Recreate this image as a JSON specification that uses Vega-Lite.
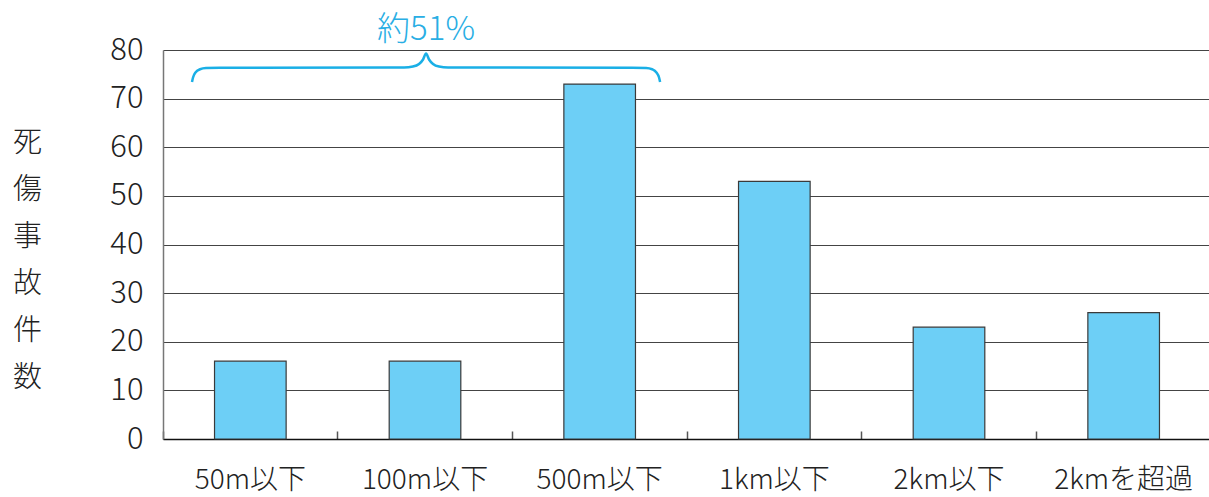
{
  "$schema": "https://vega.github.io/schema/vega-lite/v6.json",
  "width": 1048,
  "height": 389,
  "autosize": "none",
  "padding": {"left": 163, "top": 50, "right": 0, "bottom": 58},
  "background": "white",
  "config": {
    "view": {"stroke": null},
    "font": "Noto Sans CJK JP"
  },
  "datasets": {
    "accidents": [
      {"distance": "50m以下", "count": 16},
      {"distance": "100m以下", "count": 16},
      {"distance": "500m以下", "count": 73},
      {"distance": "1km以下", "count": 53},
      {"distance": "2km以下", "count": 23},
      {"distance": "2kmを超過", "count": 26}
    ],
    "brace": [
      {"pos": 0.166, "count": 73.43},
      {"pos": 0.172, "count": 74.35},
      {"pos": 0.186, "count": 75.38},
      {"pos": 0.212, "count": 76.04},
      {"pos": 0.246, "count": 76.30},
      {"pos": 0.326, "count": 76.37},
      {"pos": 1.380, "count": 76.39},
      {"pos": 1.431, "count": 76.59},
      {"pos": 1.466, "count": 77.13},
      {"pos": 1.489, "count": 78.05},
      {"pos": 1.506, "count": 79.28},
      {"pos": 1.523, "count": 78.05},
      {"pos": 1.546, "count": 77.13},
      {"pos": 1.580, "count": 76.59},
      {"pos": 1.632, "count": 76.39},
      {"pos": 2.686, "count": 76.37},
      {"pos": 2.766, "count": 76.30},
      {"pos": 2.800, "count": 76.04},
      {"pos": 2.825, "count": 75.38},
      {"pos": 2.840, "count": 74.35},
      {"pos": 2.846, "count": 73.43}
    ],
    "share": [
      {"pos": 1.506, "count": 84.2, "label": "約51%"}
    ]
  },
  "layer": [
    {
      "data": {"name": "accidents"},
      "mark": {
        "type": "bar",
        "fill": "#6DCFF6",
        "stroke": "#3a3a3a",
        "strokeWidth": 1.2,
        "width": {"band": 0.41}
      },
      "encoding": {
        "x": {
          "field": "distance",
          "type": "nominal",
          "sort": null,
          "scale": {"paddingInner": 0, "paddingOuter": 0},
          "axis": {
            "title": null,
            "labelAngle": 0,
            "labelFontSize": 28,
            "labelFontWeight": 300,
            "labelColor": "#222222",
            "labelPadding": 35,
            "labelBaseline": "top",
            "domainColor": "#111111",
            "domainWidth": 1.5,
            "ticks": true,
            "tickSize": -8,
            "tickColor": "#555555",
            "tickWidth": 1.5,
            "bandPosition": 0,
            "grid": false
          }
        },
        "y": {
          "field": "count",
          "type": "quantitative",
          "scale": {"domain": [0, 80], "nice": false},
          "axis": {
            "values": [0, 10, 20, 30, 40, 50, 60, 70, 80],
            "grid": true,
            "gridColor": "#444444",
            "gridWidth": 1.2,
            "domainColor": "#777777",
            "domainWidth": 1.5,
            "ticks": false,
            "labelFontSize": 31,
            "labelFontWeight": 300,
            "labelColor": "#222222",
            "labelPadding": 20,
            "title": ["死", "傷", "事", "故", "件", "数"],
            "titleAngle": 0,
            "titleX": -136,
            "titleY": 78,
            "titleAlign": "center",
            "titleBaseline": "top",
            "titleFontSize": 29,
            "titleFontWeight": 300,
            "titleLineHeight": 47,
            "titleColor": "#222222"
          }
        }
      }
    },
    {
      "data": {"name": "brace"},
      "mark": {
        "type": "line",
        "interpolate": "monotone",
        "color": "#1AAFE6",
        "strokeWidth": 2.5,
        "clip": false
      },
      "encoding": {
        "x": {
          "field": "pos",
          "type": "quantitative",
          "scale": {"domain": [0, 6], "nice": false, "zero": false},
          "axis": null
        },
        "y": {"field": "count", "type": "quantitative"}
      }
    },
    {
      "data": {"name": "share"},
      "mark": {
        "type": "text",
        "fontSize": 33,
        "fontWeight": 300,
        "color": "#29AEE4",
        "align": "center",
        "baseline": "middle"
      },
      "encoding": {
        "x": {
          "field": "pos",
          "type": "quantitative",
          "scale": {"domain": [0, 6], "nice": false, "zero": false},
          "axis": null
        },
        "y": {"field": "count", "type": "quantitative"},
        "text": {"field": "label"}
      }
    }
  ],
  "resolve": {"scale": {"x": "independent"}}
}
